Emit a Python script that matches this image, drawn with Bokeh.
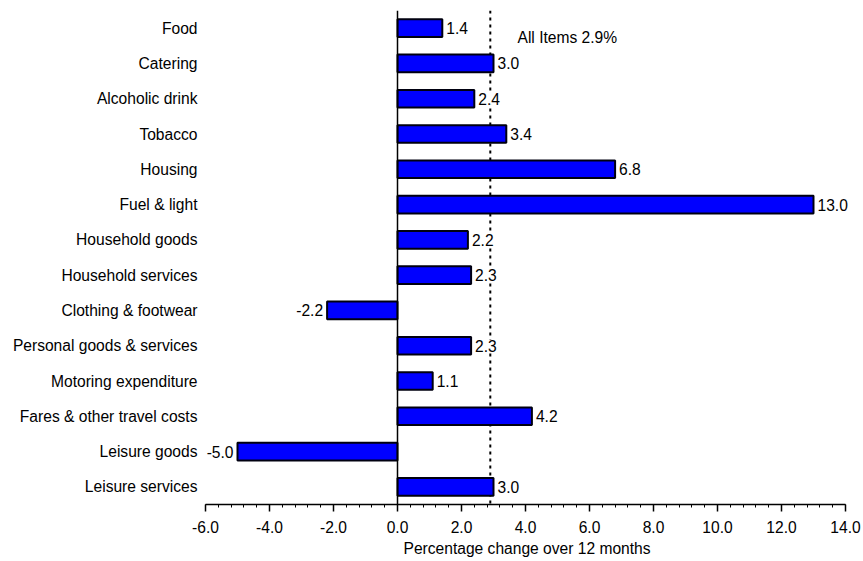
from bokeh.plotting import figure
from bokeh.models import (FactorRange, Range1d, SingleIntervalTicker, NumeralTickFormatter,
                          Span, Title, LabelSet, ColumnDataSource)
from bokeh.core.properties import value
from bokeh.embed import file_html
from bokeh.resources import INLINE

# 12-month percentage change by expenditure group
categories = [
    "Food", "Catering", "Alcoholic drink", "Tobacco", "Housing", "Fuel & light",
    "Household goods", "Household services", "Clothing & footwear",
    "Personal goods & services", "Motoring expenditure",
    "Fares & other travel costs", "Leisure goods", "Leisure services",
]
changes = [1.4, 3.0, 2.4, 3.4, 6.8, 13.0, 2.2, 2.3, -2.2, 2.3, 1.1, 4.2, -5.0, 3.0]
all_items = 2.9
x_ticks = [-6, -4, -2, 0, 2, 4, 6, 8, 10, 12, 14]

FONT = "Liberation Sans"
FS = "15.6px"

# the frame runs a little past the last tick so the longest value label fits;
# the axis itself is bounded to the tick span
p = figure(
    width=863, height=561,
    y_range=FactorRange(*reversed(categories)),
    x_range=Range1d(x_ticks[0], x_ticks[-1] + 0.5),
    output_backend="svg", toolbar_location=None,
    min_border_left=205, min_border_right=2, min_border_top=10, min_border_bottom=57,
)
p.outline_line_color = None
p.grid.visible = False
p.background_fill_color = "white"
p.border_fill_color = "white"

# all-items reference line sits behind the bars
p.add_layout(Span(location=all_items, dimension="height", line_color="black",
                  line_width=2, line_dash="3 4", level="underlay"))

src = ColumnDataSource(dict(cat=categories, val=changes))
p.hbar(y="cat", right="val", left=0, height=0.5, source=src,
       fill_color="#0000ff", line_color="#000010", line_width=2)

# zero line
p.add_layout(Span(location=0, dimension="height", line_color="black", line_width=1.5))

p.text(x=[3.75], y=[categories[0]], text=[f"All Items {all_items}%"], y_offset=9,
       text_font=value(FONT), text_font_size=FS, text_baseline="middle",
       text_align="left", text_color="black")

# value labels beside each bar, on a white box
pos = [i for i, v in enumerate(changes) if v >= 0]
neg = [i for i, v in enumerate(changes) if v < 0]
pos_src = ColumnDataSource(dict(cat=[categories[i] for i in pos], val=[changes[i] for i in pos],
                                txt=[f"{changes[i]:.1f}" for i in pos]))
neg_src = ColumnDataSource(dict(cat=[categories[i] for i in neg], val=[changes[i] for i in neg],
                                txt=[f"{changes[i]:.1f}" for i in neg]))
label_style = dict(x="val", y="cat", text="txt", text_baseline="middle",
                   text_font=value(FONT), text_font_size=FS, text_color="black",
                   background_fill_color="white")
p.add_layout(LabelSet(source=pos_src, x_offset=4, text_align="left", **label_style))
p.add_layout(LabelSet(source=neg_src, x_offset=-4, text_align="right", **label_style))

# x axis
xa = p.xaxis[0]
xa.bounds = (x_ticks[0], x_ticks[-1])
xa.ticker = SingleIntervalTicker(interval=2, num_minor_ticks=5)
xa.formatter = NumeralTickFormatter(format="0.0")
xa.axis_line_color = "black"
xa.axis_line_width = 1.5
xa.major_tick_line_color = "black"
xa.major_tick_line_width = 1.5
xa.major_tick_out = 7
xa.major_tick_in = 0
xa.minor_tick_line_color = "black"
xa.minor_tick_out = 3
xa.minor_tick_in = 0
xa.major_label_text_font = FONT
xa.major_label_text_font_size = FS
xa.major_label_text_color = "black"
xa.major_label_standoff = 9

# category labels
ya = p.yaxis[0]
ya.axis_line_color = None
ya.major_tick_line_color = None
ya.minor_tick_line_color = None
ya.major_tick_out = 0
ya.major_tick_in = 0
ya.major_label_standoff = 8
ya.major_label_text_font = FONT
ya.major_label_text_font_size = FS
ya.major_label_text_color = "black"

# x axis title, centred under the tick span
p.add_layout(Title(text="Percentage change over 12 months", align="left", offset=198,
                   text_font=FONT, text_font_size=FS, text_font_style="normal",
                   text_color="black", standoff=4), "below")

open("out.html", "w").write(file_html(p, INLINE))
